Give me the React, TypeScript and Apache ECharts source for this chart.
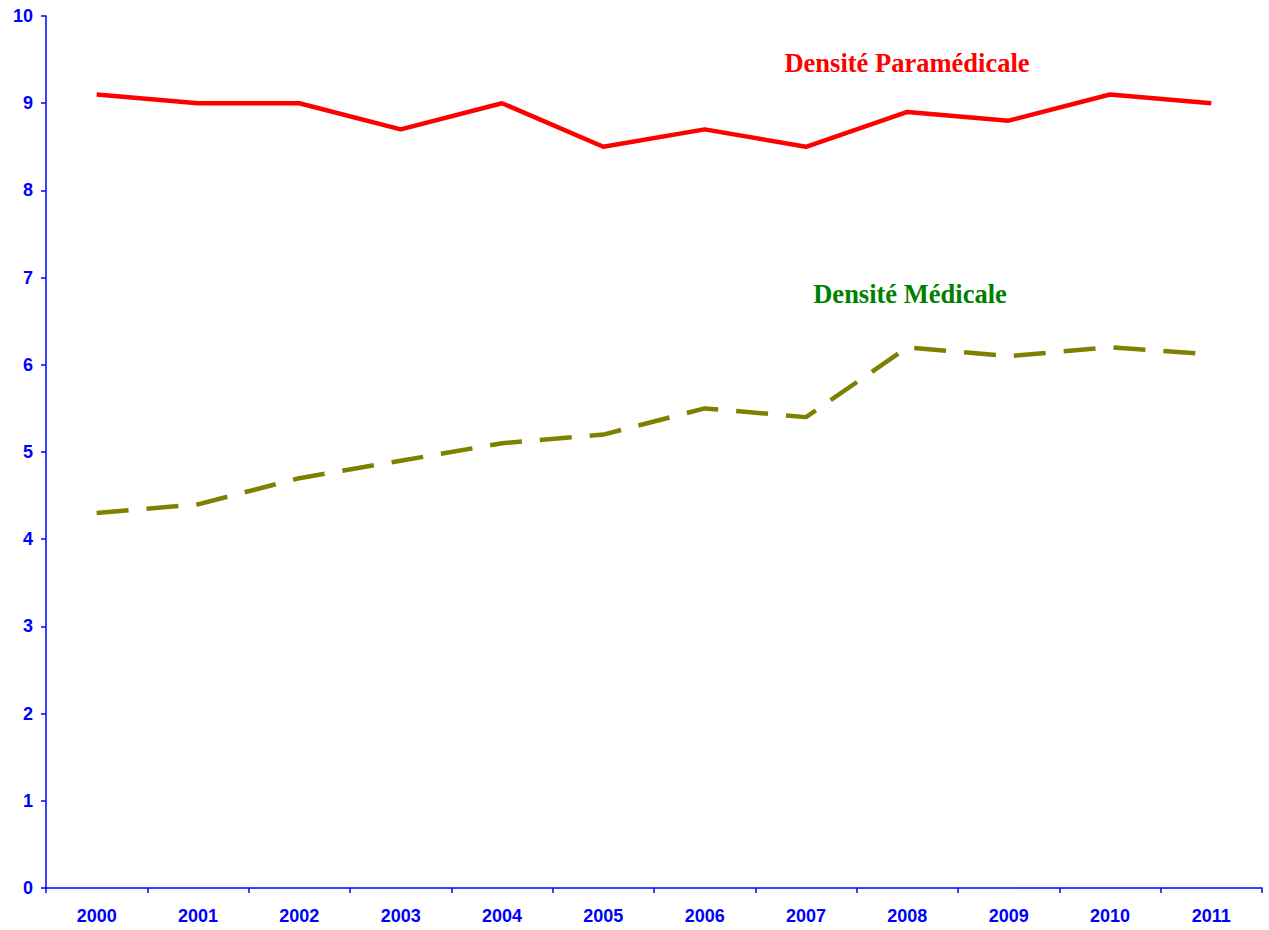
import React, { useEffect, useRef } from "react";
import * as echarts from "echarts";

const years = ["2000", "2001", "2002", "2003", "2004", "2005", "2006", "2007", "2008", "2009", "2010", "2011"];
const paramedicale = [9.1, 9.0, 9.0, 8.7, 9.0, 8.5, 8.7, 8.5, 8.9, 8.8, 9.1, 9.0];
const medicale = [4.3, 4.4, 4.7, 4.9, 5.1, 5.2, 5.5, 5.4, 6.2, 6.1, 6.2, 6.12];
const labelPara = "Densité Paramédicale";
const labelMed = "Densité Médicale";

export default function App() {
  const ref = useRef<HTMLDivElement>(null);
  useEffect(() => {
    const chart = echarts.init(ref.current!, null, { renderer: "svg" });
    const axisColor = "#0000FF";
    chart.setOption({
      animation: false,
      backgroundColor: "#ffffff",
      grid: { left: 46, right: 7, top: 16, bottom: 42, containLabel: false },
      xAxis: {
        type: "category",
        data: years,
        boundaryGap: true,
        axisLine: { lineStyle: { color: axisColor, width: 1.5 } },
        axisTick: { show: true, length: 5, inside: false, lineStyle: { color: axisColor, width: 1.5 } },
        axisLabel: { color: axisColor, fontFamily: "Liberation Sans, Arial, sans-serif", fontWeight: "bold", fontSize: 18, margin: 19 },
        splitLine: { show: false },
      },
      yAxis: {
        type: "value",
        min: 0,
        max: 10,
        interval: 1,
        axisLine: { show: true, lineStyle: { color: axisColor, width: 1.5 } },
        axisTick: { show: true, length: 5, inside: false, lineStyle: { color: axisColor, width: 1.5 } },
        axisLabel: { color: axisColor, fontFamily: "Liberation Sans, Arial, sans-serif", fontWeight: "bold", fontSize: 18, margin: 13 },
        splitLine: { show: false },
      },
      series: [
        {
          name: labelPara,
          type: "line",
          data: paramedicale,
          symbol: "none",
          lineStyle: { color: "#FF0000", width: 4.5, type: "solid" },
        },
        {
          name: labelMed,
          type: "line",
          data: medicale,
          symbol: "none",
          lineStyle: { color: "#808000", width: 4.5, type: [32, 18] },
        },
      ],
      graphic: [
        {
          type: "text",
          x: 907,
          y: 63,
          style: {
            text: labelPara,
            fill: "#FF0000",
            font: "bold 26.5px 'Liberation Serif', 'Times New Roman', serif",
            align: "center",
            verticalAlign: "middle",
          },
        },
        {
          type: "text",
          x: 910,
          y: 294,
          style: {
            text: labelMed,
            fill: "#008000",
            font: "bold 26.5px 'Liberation Serif', 'Times New Roman', serif",
            align: "center",
            verticalAlign: "middle",
          },
        },
      ],
    });
    return () => chart.dispose();
  }, []);
  return <div ref={ref} style={{ width: 1269, height: 930, position: "absolute", left: 0, top: 0 }} />;
}
